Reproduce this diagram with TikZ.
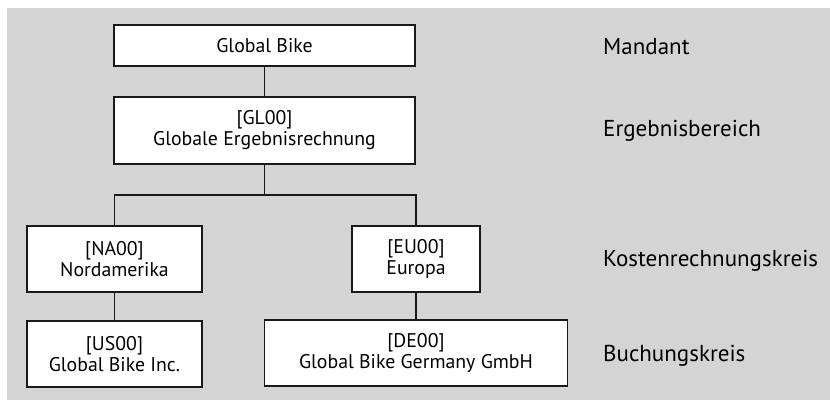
\documentclass[tikz,border=0pt]{standalone}
\usepackage{fontspec}
\setmainfont{PT Sans}
\begin{document}
\begin{tikzpicture}[x=1pt,y=-1pt,
  unit/.style={draw=black!90, fill=white, line width=1.3pt, inner sep=0pt,
    align=center, font=\fontsize{19.8}{21}\selectfont},
  level/.style={anchor=base west, inner sep=0pt, font=\fontsize{23}{26}\selectfont},
  link/.style={draw=black!90, line width=1.3pt}]
  % page and grey backdrop
  \useasboundingbox (0,0) rectangle (830,401);
  \fill[white] (0,0) rectangle (830,401);
  \fill[gray!34] (7,8) rectangle (830,400);

  % organisational units
  \node[unit, minimum width=301pt, minimum height=41pt] (gb) at (264.5,45.5) {Global Bike};
  \node[unit, minimum width=301pt, minimum height=67pt] (gl) at (264.5,130.5) {[GL00]\\Globale Ergebnisrechnung};
  \node[unit, minimum width=175pt, minimum height=66pt] (na) at (114.5,259) {[NA00]\\Nordamerika};
  \node[unit, minimum width=128pt, minimum height=66pt] (eu) at (416,259) {[EU00]\\Europa};
  \node[unit, minimum width=175pt, minimum height=66pt] (us) at (114.5,354) {[US00]\\Global Bike Inc.};
  \node[unit, minimum width=303pt, minimum height=66pt] (de) at (416,353) {[DE00]\\Global Bike Germany GmbH};

  % hierarchy connectors
  \coordinate (fork) at (264.5,195);
  \draw[link] (gb) -- (gl);
  \draw[link] (gl) -- (fork);
  \draw[link] (na.north) |- (fork) -| (eu.north);
  \draw[link] (na) -- (us);
  \draw[link] (eu) -- (de);

  % level captions
  \node[level] (l1) at (603,55) {Mandant};
  \node[level] (l2) at (603,137) {Ergebnisbereich};
  \node[level] (l3) at (603,266) {Kostenrechnungskreis};
  \node[level] (l4) at (603,361) {Buchungskreis};
\end{tikzpicture}
\end{document}
